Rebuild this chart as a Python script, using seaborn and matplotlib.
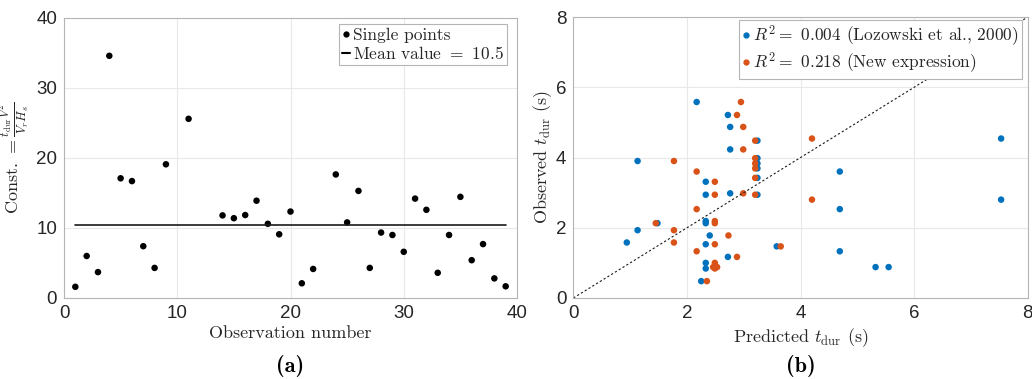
import numpy as np
import pandas as pd
import matplotlib
matplotlib.use("Agg")
import matplotlib.pyplot as plt
import seaborn as sns
from matplotlib.lines import Line2D

# ---------------- data ----------------
obs_number = [1, 2, 3, 4, 5, 6, 7, 8, 9, 11, 14, 15, 16, 17, 18, 19, 20, 21, 22,
              24, 25, 26, 27, 28, 29, 30, 31, 32, 33, 34, 35, 36, 37, 38, 39]
const_value = [1.6, 6.0, 3.7, 34.6, 17.1, 16.7, 7.4, 4.3, 19.1, 25.6, 11.8, 11.4,
               11.85, 13.9, 10.6, 9.1, 12.35, 2.1, 4.15, 17.65, 10.8, 15.3, 4.3,
               9.35, 9.0, 6.6, 14.2, 12.6, 3.6, 9.0, 14.45, 5.4, 7.7, 2.8, 1.67]
mean_value = 10.5
mean_x = [1, 39]

pred_lozowski = [0.94, 1.13, 1.13, 1.48, 2.17, 2.33, 2.33, 2.33, 2.33, 2.33, 2.40,
                 2.33, 2.33, 2.25, 2.72, 2.76, 2.76, 2.76, 2.72, 3.24, 3.24, 3.24,
                 3.24, 3.24, 3.24, 3.58, 4.69, 4.69, 4.69, 5.32, 5.55, 7.53, 7.53]
obs_lozowski = [1.58, 1.93, 3.90, 2.13, 5.58, 3.31, 2.94, 2.19, 2.13, 1.53, 1.78,
                1.00, 0.84, 0.48, 5.21, 4.87, 4.23, 2.98, 1.17, 4.48, 3.98, 3.83,
                3.69, 3.42, 2.94, 1.47, 3.60, 2.53, 1.33, 0.88, 0.88, 4.54, 2.80]

pred_new = [1.45, 1.77, 1.77, 1.77, 2.17, 2.17, 2.17, 2.35, 2.49, 2.49, 2.49, 2.49,
            2.49, 2.49, 2.49, 2.53, 2.46, 2.73, 2.88, 2.95, 2.99, 2.99, 2.99, 2.88,
            3.20, 3.20, 3.20, 3.20, 3.20, 3.20, 3.65, 4.20, 4.20]
obs_new = [2.13, 3.90, 1.93, 1.58, 3.60, 2.53, 1.33, 0.48, 3.31, 2.94, 2.19, 2.13,
           1.53, 1.00, 0.84, 0.88, 0.88, 1.78, 5.21, 5.58, 4.87, 4.23, 2.98, 1.17,
           4.48, 3.98, 3.83, 3.69, 3.42, 2.94, 1.47, 4.54, 2.80]

label_points = "Single points"
label_mean = "Mean value $=$ 10.5"
label_loz = "$R^2 =$ 0.004 (Lozowski et al., 2000)"
label_new = "$R^2 =$ 0.218 (New expression)"

# ---------------- style ----------------
sns.set_theme(style="white")
plt.rcParams["font.family"] = ["Liberation Sans", "DejaVu Sans"]
plt.rcParams["mathtext.fontset"] = "cm"
plt.rcParams["axes.unicode_minus"] = False

CM = ["cmr10", "DejaVu Serif"]
CMB = ["cmb10", "DejaVu Serif"]
BLUE = "#0072BD"
ORANGE = "#D95319"
SPINE = "#b5b5b5"
GRID = "#e8e8e8"
TICKC = "#262626"
W, H = 1032, 379

fig = plt.figure(figsize=(10.32, 3.79), dpi=100)
axL = fig.add_axes([64 / W, 1 - 298 / H, 453 / W, 280 / H])
axR = fig.add_axes([573.4 / W, 1 - 298 / H, 454.4 / W, 281 / H])


def style(ax):
    for s in ax.spines.values():
        s.set_color(SPINE)
        s.set_linewidth(0.8)
    ax.grid(True, color=GRID, linewidth=0.8)
    ax.set_axisbelow(True)
    ax.tick_params(axis="both", which="both", direction="in", length=3,
                   color=SPINE, labelsize=13.5, labelcolor=TICKC, pad=5)


# ---------------- left panel ----------------
dfL = pd.DataFrame({"obs": obs_number, "val": const_value})
sns.scatterplot(data=dfL, x="obs", y="val", ax=axL, color="black", s=22,
                edgecolor="none", legend=False)
dfM = pd.DataFrame({"x": mean_x, "y": [mean_value] * len(mean_x)})
sns.lineplot(data=dfM, x="x", y="y", ax=axL, color="#1a1a1a", linewidth=1.2,
             legend=False)
axL.set_xlim(0, 40)
axL.set_ylim(0, 40)
axL.set_xticks([0, 10, 20, 30, 40])
axL.set_yticks([0, 10, 20, 30, 40])
style(axL)
axL.set_xlabel("Observation number", fontsize=13, color=TICKC, labelpad=3,
               family=CM)
axL.set_ylabel(r"Const. $= \frac{t_{\mathrm{dur}}V^{2}}{V_r H_s}$",
               fontsize=13, color=TICKC, family=CM)
axL.yaxis.set_label_coords(-0.072, 0.5)

hL = [Line2D([], [], marker="o", ls="none", color="black", markersize=3.5),
      Line2D([], [], ls="-", color="black", lw=1.5)]
legL = axL.legend(hL, [label_points, label_mean],
                  loc="upper right", bbox_to_anchor=(507 / W, 1 - 24 / H),
                  bbox_transform=fig.transFigure, frameon=True, fancybox=False,
                  handlelength=0.45, handletextpad=0.15, borderpad=0.2,
                  labelspacing=0.12, borderaxespad=0, framealpha=1,
                  prop={"family": CM, "size": 12.5})
legL.get_frame().set_edgecolor(SPINE)
legL.get_frame().set_linewidth(0.8)

# ---------------- right panel ----------------
dfR = pd.concat([
    pd.DataFrame({"pred": pred_lozowski, "obs": obs_lozowski, "model": label_loz}),
    pd.DataFrame({"pred": pred_new, "obs": obs_new, "model": label_new}),
])
sns.scatterplot(data=dfR, x="pred", y="obs", hue="model", ax=axR,
                palette={label_loz: BLUE, label_new: ORANGE}, s=22,
                edgecolor="none", legend=False)
axR.axline((0, 0), slope=1, color="#1a1a1a", linestyle=(0, (2, 2)), linewidth=0.8)
axR.set_xlim(0, 8)
axR.set_ylim(0, 8)
axR.set_xticks([0, 2, 4, 6, 8])
axR.set_yticks([0, 2, 4, 6, 8])
style(axR)
axR.set_xlabel(r"Predicted $t_{\mathrm{dur}}$ (s)", fontsize=13,
               color=TICKC, labelpad=3, family=CM)
axR.set_ylabel(r"Observed $t_{\mathrm{dur}}$ (s)", fontsize=13,
               color=TICKC, family=CM)
axR.yaxis.set_label_coords(-0.042, 0.5)

hR = [Line2D([], [], marker="o", ls="none", color=BLUE, markersize=3.5),
      Line2D([], [], marker="o", ls="none", color=ORANGE, markersize=3.5)]
legR = axR.legend(hR, [label_loz, label_new],
                  loc="upper right", bbox_to_anchor=(1022 / W, 1 - 20 / H),
                  bbox_transform=fig.transFigure, frameon=True, fancybox=False,
                  handlelength=0.45, handletextpad=0.15, borderpad=0.2,
                  labelspacing=0.12, borderaxespad=0, framealpha=1,
                  prop={"family": CM, "size": 12.5})
legR.get_frame().set_edgecolor(SPINE)
legR.get_frame().set_linewidth(0.8)

# ---------------- sub-captions ----------------
fig.text((64 + 517) / 2 / W, 1 - 366 / H, "(a)", ha="center",
         va="center", fontsize=16, color="black", family=CMB)
fig.text((573.4 + 1028) / 2 / W, 1 - 366 / H, "(b)", ha="center",
         va="center", fontsize=16, color="black", family=CMB)

fig.savefig("out.png", dpi=100)
